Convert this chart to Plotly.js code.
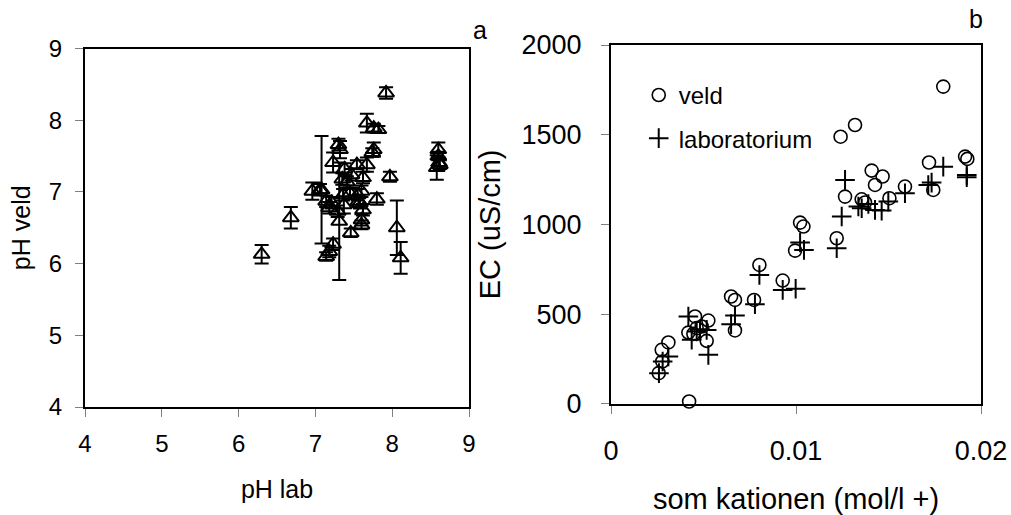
<!DOCTYPE html>
<html>
<head>
<meta charset="utf-8">
<script src="https://cdn.plot.ly/plotly-3.0.1.min.js"></script>
<style>html,body{margin:0;padding:0;background:#fff;}#chart{width:1011px;height:515px;}</style>
</head>
<body>
<div id="chart"></div>
<script>
// Panel a: pH lab vs pH veld (with error bars on pH veld)
var phLab  = [6.30, 6.68, 6.96, 7.08, 7.14, 7.18, 7.23, 7.31, 7.37, 7.18, 7.14, 7.21, 7.32, 7.30, 7.23, 7.38, 7.35, 7.41, 7.47, 7.54, 7.67, 7.62, 7.60, 7.58, 7.62, 7.60, 7.56, 7.67, 7.76, 7.82, 7.76, 7.74, 7.92, 7.80, 7.97, 8.06, 8.11, 8.60, 8.60, 8.61, 8.58, 8.62, 7.06, 7.36, 7.45, 7.55, 7.60, 7.46, 7.29];
var phVeld = [6.13, 6.64, 7.01, 7.03, 6.10, 6.17, 6.27, 6.59, 6.82, 6.78, 6.87, 6.85, 7.59, 7.66, 7.41, 7.32, 7.18, 7.14, 7.24, 7.38, 7.38, 7.20, 7.01, 6.85, 6.75, 6.61, 6.87, 7.96, 7.89, 7.87, 7.59, 7.55, 8.38, 6.90, 7.21, 6.50, 6.08, 7.59, 7.50, 7.41, 7.34, 7.38, 7.03, 6.96, 6.98, 6.96, 6.54, 6.43, 6.73];
var phErr  = [0.13, 0.15, 0.12, 0.75, 0.06, 0.08, 0.08, 0.82, 0.12, 0.08, 0.08, 0.08, 0.12, 0.08, 0.14, 0.08, 0.08, 0.08, 0.08, 0.06, 0.10, 0.08, 0.08, 0.08, 0.08, 0.08, 0.08, 0.13, 0.06, 0.05, 0.10, 0.06, 0.08, 0.08, 0.07, 0.38, 0.22, 0.10, 0.06, 0.06, 0.17, 0.06, 0.08, 0.08, 0.08, 0.08, 0.06, 0.06, 0.08];

// Panel b: som kationen vs EC
var kationVeld = [0.01796, 0.01319, 0.01241, 0.01914, 0.01926, 0.01719, 0.01409, 0.01468, 0.01427, 0.01589, 0.01742, 0.01265, 0.01355, 0.01373, 0.01505, 0.01022, 0.01040, 0.01220, 0.00995, 0.00802, 0.00928, 0.00649, 0.00670, 0.00773, 0.00670, 0.00310, 0.00274, 0.00277, 0.00258, 0.00454, 0.00418, 0.00463, 0.00490, 0.00526, 0.00517, 0.00445, 0.00422];
var ecVeld     = [1768, 1554, 1489, 1378, 1365, 1345, 1300, 1267, 1220, 1211, 1192, 1155, 1140, 1122, 1146, 1010, 988, 923, 854, 774, 687, 598, 579, 579, 409, 342, 301, 236, 171, 487, 397, 422, 431, 464, 351, 390, 13];
var kationLab  = [0.01796, 0.01733, 0.01715, 0.01923, 0.01923, 0.01265, 0.01247, 0.01589, 0.01499, 0.01463, 0.01427, 0.01391, 0.01355, 0.01337, 0.01022, 0.01043, 0.01220, 0.00998, 0.00928, 0.00802, 0.00778, 0.00670, 0.00649, 0.00418, 0.00436, 0.00463, 0.00481, 0.00517, 0.00526, 0.00310, 0.00279, 0.00259];
var ecLab      = [1322, 1233, 1220, 1276, 1263, 1248, 1044, 1174, 1127, 1077, 1081, 1114, 1090, 1100, 899, 858, 867, 641, 635, 718, 555, 492, 444, 487, 357, 403, 416, 412, 273, 264, 236, 171];

var xTicksA = [4, 5, 6, 7, 8, 9];
var yTicksA = [4, 5, 6, 7, 8, 9];
var xTicksB = [0, 0.01, 0.02];
var yTicksB = [0, 500, 1000, 1500, 2000];

var FONT = 'Liberation Sans, Arial, sans-serif';

var traces = [
  {
    x: phLab, y: phVeld, xaxis: 'x', yaxis: 'y', type: 'scatter', mode: 'markers',
    showlegend: false, cliponaxis: false,
    marker: {symbol: 'triangle-up-open', size: 14, color: '#000', line: {width: 2, color: '#000'}},
    error_y: {type: 'data', array: phErr, visible: true, color: '#000', thickness: 2, width: 7}
  },
  {
    x: kationVeld, y: ecVeld, xaxis: 'x2', yaxis: 'y2', type: 'scatter', mode: 'markers',
    name: 'veld', legendgroup: 'g1', cliponaxis: false,
    marker: {symbol: 'circle-open', size: 13, color: '#000', line: {width: 1.6, color: '#000'}}
  },
  {
    x: kationLab, y: ecLab, xaxis: 'x2', yaxis: 'y2', type: 'scatter', mode: 'markers',
    name: 'laboratorium', legendgroup: 'g2', cliponaxis: false,
    marker: {symbol: 'cross-thin-open', size: 14, color: '#000', line: {width: 2, color: '#000'}}
  }
];

function axisBase(extra) {
  var a = {
    showline: true, linecolor: '#000', linewidth: 2, mirror: true,
    ticks: 'outside', ticklen: 8, tickcolor: '#808080', tickwidth: 1,
    showgrid: false, zeroline: false, automargin: false,
    tickfont: {family: FONT, color: '#000'}
  };
  for (var k in extra) a[k] = extra[k];
  return a;
}

var layout = {
  width: 1011, height: 515,
  margin: {l: 85, r: 30, t: 45, b: 108},
  paper_bgcolor: '#fff', plot_bgcolor: '#fff',
  font: {family: FONT, color: '#000'},
  showlegend: true,
  legend: {
    x: 0.618, y: 0.923, xanchor: 'left', yanchor: 'top',
    bgcolor: 'rgba(0,0,0,0)', borderwidth: 0,
    font: {family: FONT, size: 24, color: '#000'},
    tracegroupgap: 9
  },
  xaxis: axisBase({
    domain: [0, 0.4286], range: [4, 9], tickvals: xTicksA, ticktext: xTicksA.map(String),
    anchor: 'y', tickfont: {family: FONT, size: 24, color: '#000'}, ticklabelstandoff: 6,
    title: {text: 'pH lab', font: {family: FONT, size: 25, color: '#000'}, standoff: 25}
  }),
  yaxis: axisBase({
    domain: [0, 0.9903], range: [4, 9], tickvals: yTicksA, ticktext: yTicksA.map(String),
    anchor: 'x', tickfont: {family: FONT, size: 24, color: '#000'}, ticklabelstandoff: 8,
    title: {text: 'pH veld', font: {family: FONT, size: 25, color: '#000'}, standoff: 11}
  }),
  xaxis2: axisBase({
    domain: [0.5871, 1], range: [0, 0.02], tickvals: xTicksB, ticktext: ['0', '0.01', '0.02'],
    anchor: 'y2', tickfont: {family: FONT, size: 27, color: '#000'}, ticklabelstandoff: 14,
    title: {text: 'som kationen (mol/l +)', font: {family: FONT, size: 29, color: '#000'}, standoff: 26}
  }),
  yaxis2: axisBase({
    domain: [0.0088, 1], range: [0, 2000], tickvals: yTicksB, ticktext: yTicksB.map(String),
    anchor: 'x2', tickfont: {family: FONT, size: 27, color: '#000'}, ticklabelstandoff: 14,
    title: {text: 'EC (uS/cm)', font: {family: FONT, size: 29, color: '#000'}, standoff: 12}
  }),
  annotations: [
    {text: 'a', xref: 'paper', yref: 'paper', x: 0.4408, y: 1.0428, xanchor: 'center', yanchor: 'middle',
     showarrow: false, font: {family: FONT, size: 25, color: '#000'}},
    {text: 'b', xref: 'paper', yref: 'paper', x: 0.9944, y: 1.0732, xanchor: 'center', yanchor: 'middle',
     showarrow: false, font: {family: FONT, size: 25, color: '#000'}}
  ]
};

Plotly.newPlot('chart', traces, layout, {displayModeBar: false, staticPlot: true});
</script>
</body>
</html>
